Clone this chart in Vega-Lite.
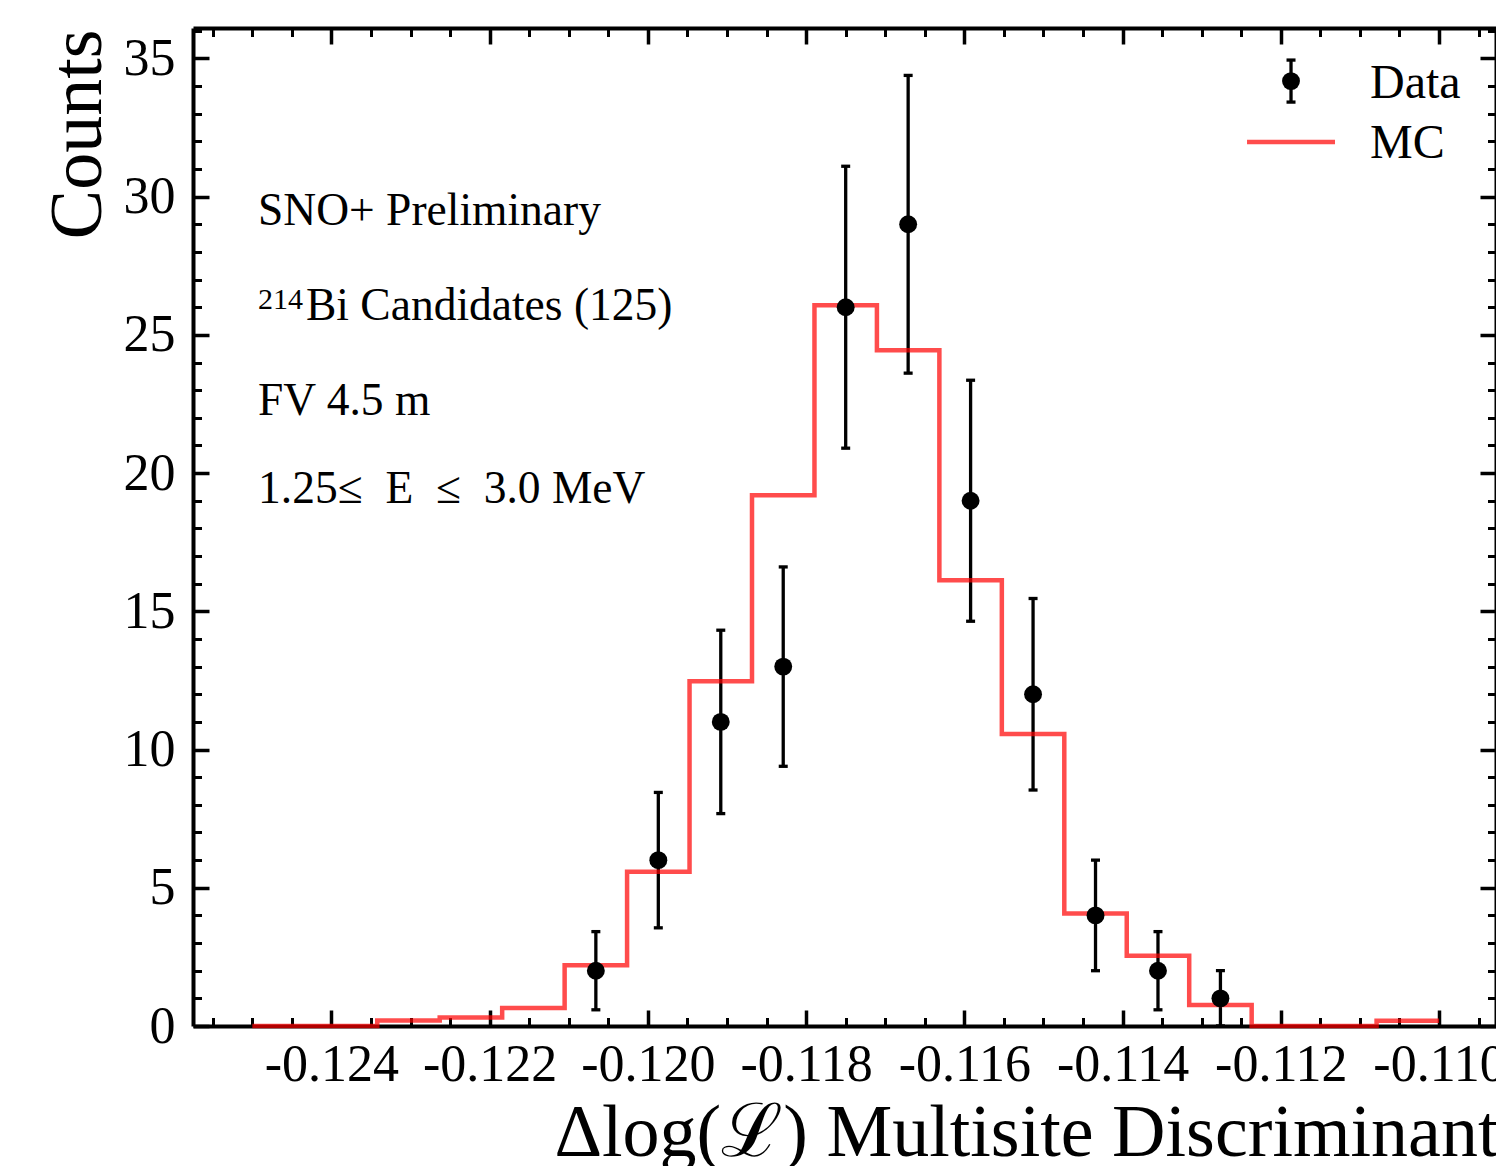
{
  "$schema": "https://vega.github.io/schema/vega-lite/v6.json",
  "width": 1303,
  "height": 998,
  "autosize": {"type": "none"},
  "padding": {"left": 193, "top": 28, "right": 0, "bottom": 140},
  "background": "white",
  "config": {"view": {"stroke": null}, "font": "Liberation Serif", "axis": {"grid": false}},
  "datasets": {
    "data": [
      {"x": -0.1206579, "n": 2, "lo": 0.586, "hi": 3.414, "series": "Data"},
      {"x": -0.1198684, "n": 6, "lo": 3.551, "hi": 8.449, "series": "Data"},
      {"x": -0.1190789, "n": 11, "lo": 7.683, "hi": 14.317, "series": "Data"},
      {"x": -0.1182895, "n": 13, "lo": 9.394, "hi": 16.606, "series": "Data"},
      {"x": -0.1175, "n": 26, "lo": 20.901, "hi": 31.099, "series": "Data"},
      {"x": -0.1167105, "n": 29, "lo": 23.615, "hi": 34.385, "series": "Data"},
      {"x": -0.1159211, "n": 19, "lo": 14.641, "hi": 23.359, "series": "Data"},
      {"x": -0.1151316, "n": 12, "lo": 8.536, "hi": 15.464, "series": "Data"},
      {"x": -0.1143421, "n": 4, "lo": 2, "hi": 6, "series": "Data"},
      {"x": -0.1135526, "n": 2, "lo": 0.586, "hi": 3.414, "series": "Data"},
      {"x": -0.1127632, "n": 1, "lo": 0, "hi": 2, "series": "Data"}
    ],
    "mc": [
      {"edge": -0.125, "mc": 0, "series": "MC"},
      {"edge": -0.1242105, "mc": 0, "series": "MC"},
      {"edge": -0.1234211, "mc": 0.2, "series": "MC"},
      {"edge": -0.1226316, "mc": 0.31, "series": "MC"},
      {"edge": -0.1218421, "mc": 0.65, "series": "MC"},
      {"edge": -0.1210526, "mc": 2.2, "series": "MC"},
      {"edge": -0.1202632, "mc": 5.58, "series": "MC"},
      {"edge": -0.1194737, "mc": 12.47, "series": "MC"},
      {"edge": -0.1186842, "mc": 19.2, "series": "MC"},
      {"edge": -0.1178947, "mc": 26.07, "series": "MC"},
      {"edge": -0.1171053, "mc": 24.44, "series": "MC"},
      {"edge": -0.1163158, "mc": 16.12, "series": "MC"},
      {"edge": -0.1155263, "mc": 10.56, "series": "MC"},
      {"edge": -0.1147368, "mc": 4.07, "series": "MC"},
      {"edge": -0.1139474, "mc": 2.54, "series": "MC"},
      {"edge": -0.1131579, "mc": 0.76, "series": "MC"},
      {"edge": -0.1123684, "mc": 0, "series": "MC"},
      {"edge": -0.1115789, "mc": 0, "series": "MC"},
      {"edge": -0.1107895, "mc": 0.19, "series": "MC"},
      {"edge": -0.11, "mc": 0.19, "series": "MC"}
    ]
  },
  "layer": [
    {
      "data": {"name": "data"},
      "mark": {"type": "rule", "color": "black", "strokeWidth": 3.3},
      "encoding": {
        "x": {"field": "x", "type": "quantitative", "scale": {"domain": [-0.12575, -0.10928], "nice": false, "zero": false},
          "axis": {"orient": "bottom", "values": [-0.1255, -0.125, -0.1245, -0.124, -0.1235, -0.123, -0.1225, -0.122, -0.1215, -0.121, -0.1205, -0.12, -0.1195, -0.119, -0.1185, -0.118, -0.1175, -0.117, -0.1165, -0.116, -0.1155, -0.115, -0.1145, -0.114, -0.1135, -0.113, -0.1125, -0.112, -0.1115, -0.111, -0.1105, -0.11, -0.1095],
            "labels": false, "domain": false, "ticks": true, "tickSize": -8.5, "tickWidth": 3, "tickColor": "black", "title": null, "grid": false}},
        "y": {"field": "lo", "type": "quantitative", "scale": {"domain": [0, 36.1], "nice": false, "zero": false},
          "axis": {"orient": "left", "values": [1, 2, 3, 4, 6, 7, 8, 9, 11, 12, 13, 14, 16, 17, 18, 19, 21, 22, 23, 24, 26, 27, 28, 29, 31, 32, 33, 34, 36],
            "labels": false, "domain": false, "ticks": true, "tickSize": -8.5, "tickWidth": 3, "tickColor": "black", "title": null, "grid": false}},
        "y2": {"field": "hi"}
      }
    },
    {
      "data": {"name": "data"},
      "mark": {"type": "tick", "orient": "horizontal", "size": 9, "thickness": 3.3, "color": "black", "opacity": 1},
      "encoding": {
        "x": {"field": "x", "type": "quantitative", "scale": {"domain": [-0.12575, -0.10928], "nice": false, "zero": false},
          "axis": {"orient": "top", "values": [-0.124, -0.122, -0.12, -0.118, -0.116, -0.114, -0.112, -0.11],
            "labels": false, "domain": true, "domainWidth": 4, "domainColor": "black", "ticks": true, "tickSize": -16, "tickWidth": 3.5, "tickColor": "black", "title": null, "grid": false}},
        "y": {"field": "lo", "type": "quantitative", "scale": {"domain": [0, 36.1], "nice": false, "zero": false},
          "axis": {"orient": "right", "values": [0, 5, 10, 15, 20, 25, 30, 35],
            "labels": false, "domain": true, "domainWidth": 4, "domainColor": "black", "ticks": true, "tickSize": -16, "tickWidth": 3.5, "tickColor": "black", "title": null, "grid": false}}
      }
    },
    {
      "data": {"name": "data"},
      "mark": {"type": "tick", "orient": "horizontal", "size": 9, "thickness": 3.3, "color": "black", "opacity": 1},
      "encoding": {
        "x": {"field": "x", "type": "quantitative", "scale": {"domain": [-0.12575, -0.10928], "nice": false, "zero": false},
          "axis": {"orient": "top", "values": [-0.1255, -0.125, -0.1245, -0.1235, -0.123, -0.1225, -0.1215, -0.121, -0.1205, -0.1195, -0.119, -0.1185, -0.1175, -0.117, -0.1165, -0.1155, -0.115, -0.1145, -0.1135, -0.113, -0.1125, -0.1115, -0.111, -0.1105, -0.1095],
            "labels": false, "domain": false, "ticks": true, "tickSize": -8.5, "tickWidth": 3, "tickColor": "black", "title": null, "grid": false}},
        "y": {"field": "hi", "type": "quantitative", "scale": {"domain": [0, 36.1], "nice": false, "zero": false},
          "axis": {"orient": "right", "values": [1, 2, 3, 4, 6, 7, 8, 9, 11, 12, 13, 14, 16, 17, 18, 19, 21, 22, 23, 24, 26, 27, 28, 29, 31, 32, 33, 34, 36],
            "labels": false, "domain": false, "ticks": true, "tickSize": -8.5, "tickWidth": 3, "tickColor": "black", "title": null, "grid": false}}
      }
    },
    {
      "data": {"name": "mc"},
      "mark": {"type": "line", "interpolate": "step-after", "strokeWidth": 4.5, "opacity": 0.7, "color": "#ff0000", "strokeCap": "butt", "strokeJoin": "miter"},
      "encoding": {
        "x": {"field": "edge", "type": "quantitative", "scale": {"domain": [-0.12575, -0.10928], "nice": false, "zero": false},
          "axis": {"orient": "bottom", "values": [-0.124, -0.122, -0.12, -0.118, -0.116, -0.114, -0.112, -0.11],
            "labelExpr": "replace(format(datum.value, '.3f'), '−', '-')",
            "domain": true, "domainWidth": 4, "domainColor": "black", "ticks": true, "tickSize": -16, "tickWidth": 3.5, "tickColor": "black",
            "labelFont": "Liberation Serif", "labelFontSize": 52, "labelColor": "black", "labelPadding": 70, "labelBaseline": "alphabetic",
            "labelFlush": false, "labelOverlap": false, "labelBound": false, "grid": false,
            "title": "Δlog(ℒ) Multisite Discriminant", "titleFont": "Liberation Serif", "titleFontSize": 74, "titleFontWeight": "normal", "titleColor": "black",
            "titleAnchor": "end", "titleAlign": "right", "titleBaseline": "alphabetic", "titleX": 1305, "titleY": 129}},
        "y": {"field": "mc", "type": "quantitative", "scale": {"domain": [0, 36.1], "nice": false, "zero": false},
          "axis": {"orient": "left", "values": [0, 5, 10, 15, 20, 25, 30, 35], "format": "d",
            "domain": true, "domainWidth": 4, "domainColor": "black", "ticks": true, "tickSize": -16, "tickWidth": 3.5, "tickColor": "black",
            "labelFont": "Liberation Serif", "labelFontSize": 52, "labelColor": "black", "labelPadding": 34, "labelBaseline": "middle", "labelAlign": "right",
            "labelFlush": false, "labelOverlap": false, "labelBound": false, "grid": false,
            "title": "Counts", "titleFont": "Liberation Serif", "titleFontSize": 74, "titleFontWeight": "normal", "titleColor": "black",
            "titleAngle": -90, "titleAnchor": "end", "titleAlign": "right", "titleBaseline": "alphabetic", "titleX": -93, "titleY": 1}}
      }
    },
    {
      "data": {"name": "data"},
      "mark": {"type": "circle", "size": 320, "opacity": 1, "color": "black"},
      "encoding": {
        "x": {"field": "x", "type": "quantitative", "scale": {"domain": [-0.12575, -0.10928], "nice": false, "zero": false}, "axis": null},
        "y": {"field": "n", "type": "quantitative", "scale": {"domain": [0, 36.1], "nice": false, "zero": false}, "axis": null}
      }
    },
    {
      "data": {"values": [{}]},
      "mark": {"type": "rule", "color": "black", "strokeWidth": 3.3},
      "encoding": {
        "x": {"datum": -0.111871, "type": "quantitative", "axis": null},
        "y": {"datum": 33.42, "type": "quantitative", "axis": null},
        "y2": {"datum": 34.94}
      }
    },
    {
      "data": {"values": [{}]},
      "mark": {"type": "tick", "orient": "horizontal", "size": 9, "thickness": 3.3, "color": "black", "opacity": 1},
      "encoding": {
        "x": {"datum": -0.111871, "type": "quantitative", "axis": null},
        "y": {"datum": 33.42, "type": "quantitative", "axis": null}
      }
    },
    {
      "data": {"values": [{}]},
      "mark": {"type": "tick", "orient": "horizontal", "size": 9, "thickness": 3.3, "color": "black", "opacity": 1},
      "encoding": {
        "x": {"datum": -0.111871, "type": "quantitative", "axis": null},
        "y": {"datum": 34.94, "type": "quantitative", "axis": null}
      }
    },
    {
      "data": {"values": [{}]},
      "mark": {"type": "circle", "size": 320, "opacity": 1, "color": "black"},
      "encoding": {
        "x": {"datum": -0.111871, "type": "quantitative", "axis": null},
        "y": {"datum": 34.18, "type": "quantitative", "axis": null}
      }
    },
    {
      "data": {"values": [{}]},
      "mark": {"type": "rule", "color": "#ff0000", "opacity": 0.7, "strokeWidth": 4.5, "strokeCap": "butt"},
      "encoding": {
        "x": {"datum": -0.112427, "type": "quantitative", "axis": null},
        "x2": {"datum": -0.111315},
        "y": {"datum": 31.98, "type": "quantitative", "axis": null}
      }
    },
    {
      "data": {"values": [{}]},
      "mark": {"type": "text", "align": "left", "baseline": "alphabetic", "font": "Liberation Serif", "fontSize": 48, "color": "black"},
      "encoding": {
        "x": {"datum": -0.110872, "type": "quantitative", "axis": null},
        "y": {"datum": 33.57, "type": "quantitative", "axis": null},
        "text": {"value": "Data"}
      }
    },
    {
      "data": {"values": [{}]},
      "mark": {"type": "text", "align": "left", "baseline": "alphabetic", "font": "Liberation Serif", "fontSize": 48, "color": "black"},
      "encoding": {
        "x": {"datum": -0.110872, "type": "quantitative", "axis": null},
        "y": {"datum": 31.4, "type": "quantitative", "axis": null},
        "text": {"value": "MC"}
      }
    },
    {
      "data": {"values": [{}]},
      "mark": {"type": "text", "align": "left", "baseline": "alphabetic", "font": "Liberation Serif", "fontSize": 45.5, "color": "black"},
      "encoding": {
        "x": {"datum": -0.124928, "type": "quantitative", "axis": null},
        "y": {"datum": 28.99, "type": "quantitative", "axis": null},
        "text": {"value": "SNO+ Preliminary"}
      }
    },
    {
      "data": {"values": [{}]},
      "mark": {"type": "text", "align": "left", "baseline": "alphabetic", "font": "Liberation Serif", "fontSize": 30, "color": "black"},
      "encoding": {
        "x": {"datum": -0.124928, "type": "quantitative", "axis": null},
        "y": {"datum": 25.92, "type": "quantitative", "axis": null},
        "text": {"value": "214"}
      }
    },
    {
      "data": {"values": [{}]},
      "mark": {"type": "text", "align": "left", "baseline": "alphabetic", "font": "Liberation Serif", "fontSize": 45.5, "color": "black"},
      "encoding": {
        "x": {"datum": -0.124322, "type": "quantitative", "axis": null},
        "y": {"datum": 25.52, "type": "quantitative", "axis": null},
        "text": {"value": "Bi Candidates (125)"}
      }
    },
    {
      "data": {"values": [{}]},
      "mark": {"type": "text", "align": "left", "baseline": "alphabetic", "font": "Liberation Serif", "fontSize": 45.5, "color": "black"},
      "encoding": {
        "x": {"datum": -0.124928, "type": "quantitative", "axis": null},
        "y": {"datum": 22.09, "type": "quantitative", "axis": null},
        "text": {"value": "FV 4.5 m"}
      }
    },
    {
      "data": {"values": [{}]},
      "mark": {"type": "text", "align": "left", "baseline": "alphabetic", "font": "Liberation Serif", "fontSize": 45.5, "color": "black"},
      "encoding": {
        "x": {"datum": -0.124928, "type": "quantitative", "axis": null},
        "y": {"datum": 18.91, "type": "quantitative", "axis": null},
        "text": {"value": "1.25≤\u00a0 E\u00a0 ≤\u00a0 3.0 MeV"}
      }
    }
  ],
  "resolve": {"axis": {"x": "independent", "y": "independent"}}
}
